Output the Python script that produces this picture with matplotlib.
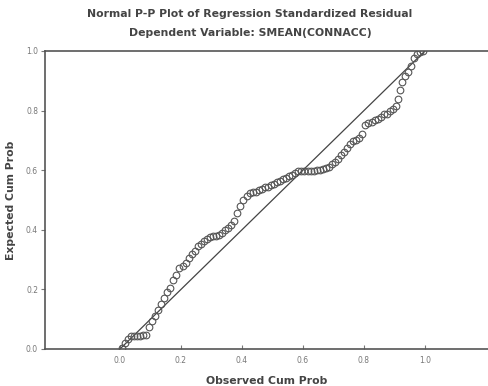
import matplotlib
matplotlib.use("Agg")
import matplotlib.pyplot as plt
import numpy as np

# observed cumulative probability (x) and expected cumulative probability (y)
observed = [0.005, 0.015, 0.025, 0.035, 0.045, 0.055, 0.065, 0.075, 0.085, 0.095,
            0.105, 0.115, 0.125, 0.135, 0.145, 0.155, 0.165, 0.175, 0.185, 0.195,
            0.205, 0.215, 0.225, 0.235, 0.245, 0.255, 0.265, 0.275, 0.285, 0.295,
            0.305, 0.315, 0.325, 0.335, 0.345, 0.355, 0.365, 0.375, 0.385, 0.395,
            0.405, 0.415, 0.425, 0.435, 0.445, 0.455, 0.465, 0.475, 0.485, 0.495,
            0.505, 0.515, 0.525, 0.535, 0.545, 0.555, 0.565, 0.575, 0.585, 0.595,
            0.605, 0.615, 0.625, 0.635, 0.645, 0.655, 0.665, 0.675, 0.685, 0.695,
            0.705, 0.715, 0.725, 0.735, 0.745, 0.755, 0.765, 0.775, 0.785, 0.795,
            0.805, 0.815, 0.825, 0.835, 0.845, 0.855, 0.865, 0.875, 0.885, 0.895,
            0.905, 0.912, 0.920, 0.925, 0.935, 0.945, 0.955, 0.965, 0.975, 0.985,
            0.995]
expected = [0.005, 0.020, 0.035, 0.042, 0.044, 0.044, 0.045, 0.046, 0.047, 0.075,
            0.095, 0.110, 0.130, 0.150, 0.170, 0.190, 0.205, 0.230, 0.250, 0.272,
            0.278, 0.290, 0.305, 0.318, 0.330, 0.345, 0.352, 0.362, 0.370, 0.375,
            0.378, 0.380, 0.383, 0.390, 0.398, 0.405, 0.415, 0.430, 0.455, 0.480,
            0.500, 0.515, 0.522, 0.527, 0.528, 0.532, 0.538, 0.542, 0.545, 0.550,
            0.555, 0.560, 0.565, 0.570, 0.575, 0.580, 0.585, 0.592, 0.596, 0.597,
            0.597, 0.597, 0.598, 0.598, 0.600, 0.602, 0.605, 0.608, 0.612, 0.620,
            0.628, 0.638, 0.650, 0.662, 0.675, 0.688, 0.697, 0.703, 0.708, 0.720,
            0.752, 0.760, 0.763, 0.768, 0.773, 0.780, 0.787, 0.790, 0.797, 0.805,
            0.815, 0.840, 0.870, 0.895, 0.915, 0.930, 0.950, 0.975, 0.990, 0.995,
            1.000]
tick_vals = [0.0, 0.2, 0.4, 0.6, 0.8, 1.0]
tick_labels = ["0.0", "0.2", "0.4", "0.6", "0.8", "1.0"]

plt.rcParams['font.family'] = ['DejaVu Sans']

fig = plt.figure(figsize=(4.88, 3.86), dpi=100)
ax = fig.add_axes([45 / 488, 37 / 386, 443 / 488, 298 / 386])

grey = '#555555'
text_grey = '#444444'

# reference line and points
ax.plot([0, 1], [0, 1], color='#444444', lw=0.9, zorder=2)
ax.plot(observed, expected, linestyle='none', marker='o', markersize=4.8,
        markerfacecolor='none', markeredgecolor='#555555', markeredgewidth=0.8, zorder=3)

ax.set_xlim(-0.246, 1.207)
ax.set_ylim(0, 1)
ax.set_xticks(tick_vals)
ax.set_xticklabels(tick_labels)
ax.set_yticks(tick_vals)
ax.set_yticklabels(tick_labels)
ax.tick_params(axis='x', direction='in', length=3, labelsize=5.5, colors='#777777', pad=5)
ax.tick_params(axis='y', direction='out', length=3, labelsize=5.5, colors='#777777', pad=2)

for side in ['left', 'bottom', 'top']:
    ax.spines[side].set_color(grey)
    ax.spines[side].set_linewidth(1.2)
ax.spines['right'].set_visible(False)

ax.set_xlabel('Observed Cum Prob', fontsize=7.8, fontweight='bold', color=text_grey, labelpad=8)
ax.set_ylabel('Expected Cum Prob', fontsize=7.8, fontweight='bold', color=text_grey, labelpad=7)

fig.text(0.512, 1 - 14 / 386, 'Normal P-P Plot of Regression Standardized Residual',
         ha='center', va='center', fontsize=7.8, fontweight='bold', color=text_grey)
fig.text(0.512, 1 - 33 / 386, 'Dependent Variable: SMEAN(CONNACC)',
         ha='center', va='center', fontsize=7.8, fontweight='bold', color=text_grey)

fig.savefig('out.png', dpi=100)
